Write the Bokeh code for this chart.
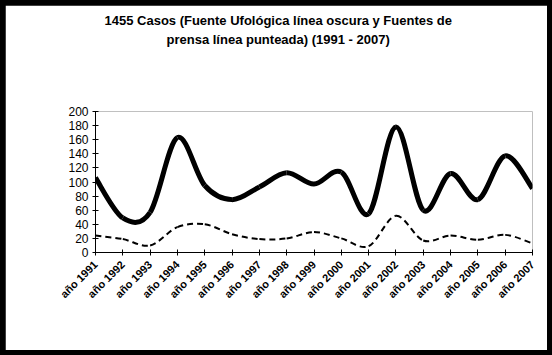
from bokeh.plotting import figure
from bokeh.models import FixedTicker, Range1d, Title
from bokeh.layouts import column
from bokeh.embed import file_html
from bokeh.resources import INLINE

title_line1 = "1455 Casos (Fuente Ufológica línea oscura y Fuentes de"
title_line2 = "prensa línea punteada) (1991 - 2007)"
years = ["año 1991", "año 1992", "año 1993", "año 1994", "año 1995", "año 1996",
         "año 1997", "año 1998", "año 1999", "año 2000", "año 2001", "año 2002",
         "año 2003", "año 2004", "año 2005", "año 2006", "año 2007"]
ufologica = [106, 49, 57, 163, 95, 75, 93, 113, 97, 114, 55, 178, 60, 112, 75, 137, 91]
prensa = [24, 19, 10, 36, 40, 26, 19, 20, 29, 20, 9, 52, 17, 24, 18, 25, 13]
y_ticks = [0, 20, 40, 60, 80, 100, 120, 140, 160, 180, 200]

FONT = "Liberation Sans"


def bezier_segments(vals):
    """Smooth (Catmull-Rom style) Bezier control points through the data points."""
    n = len(vals)
    pts = [(float(i), float(v)) for i, v in enumerate(vals)]
    ext = [pts[0]] + pts + [pts[-1]]
    seg = dict(x0=[], y0=[], x1=[], y1=[], cx0=[], cy0=[], cx1=[], cy1=[])
    for i in range(n - 1):
        p0, p1, p2, p3 = ext[i], ext[i + 1], ext[i + 2], ext[i + 3]
        seg["x0"].append(p1[0]); seg["y0"].append(p1[1])
        seg["x1"].append(p2[0]); seg["y1"].append(p2[1])
        seg["cx0"].append(p1[0] + (p2[0] - p0[0]) / 6.0)
        seg["cy0"].append(p1[1] + (p2[1] - p0[1]) / 6.0)
        seg["cx1"].append(p2[0] - (p3[0] - p1[0]) / 6.0)
        seg["cy1"].append(p2[1] - (p3[1] - p1[1]) / 6.0)
    return seg


p = figure(width=542, height=345, output_backend="svg", toolbar_location=None,
           x_range=Range1d(0, len(years) - 1), y_range=Range1d(0, 200),
           min_border_left=90, min_border_right=15, min_border_top=106,
           min_border_bottom=98)

title_style = dict(text_font=FONT, text_font_size="13px", text_font_style="bold",
                   text_color="black", align="left")

# outer line of the title
p.title.text = title_line1
p.title.text_font = FONT
p.title.text_font_size = "13px"
p.title.text_font_style = "bold"
p.title.text_color = "black"
p.title.align = "left"
p.title.offset = 9
p.title.standoff = 2

# blank spacer between the plot frame and the title lines (innermost)
p.add_layout(Title(text=" ", standoff=47, **title_style), "above")
# second line of the title
p.add_layout(Title(text=title_line2, offset=71, standoff=2, **title_style), "above")

p.background_fill_color = "white"
p.border_fill_color = "white"
p.outline_line_color = None
p.xgrid.visible = False
p.ygrid.visible = False

p.bezier(**bezier_segments(prensa), line_color="black", line_width=2,
         line_dash="6 4")
p.bezier(**bezier_segments(ufologica), line_color="black", line_width=5)

p.xaxis.ticker = FixedTicker(ticks=list(range(len(years))))
p.xaxis.major_label_overrides = {i: lab for i, lab in enumerate(years)}
p.xaxis.major_label_orientation = 0.785398
p.yaxis.ticker = FixedTicker(ticks=y_ticks)
for ax in (p.xaxis, p.yaxis):
    ax.axis_line_color = "black"
    ax.axis_line_width = 1
    ax.major_tick_line_color = "black"
    ax.major_tick_out = 3
    ax.major_tick_in = 3
    ax.minor_tick_line_color = None
    ax.major_label_text_font = FONT
    ax.major_label_text_color = "black"
p.xaxis.major_label_text_font_size = "11px"
p.xaxis.major_label_text_font_style = "bold"
p.yaxis.major_label_text_font_size = "12px"
p.xaxis.major_label_standoff = 7
p.yaxis.major_label_standoff = 4

layout = column(p, styles={"background-color": "black", "padding": "5px"})

open("out.html", "w").write(file_html(layout, INLINE))
